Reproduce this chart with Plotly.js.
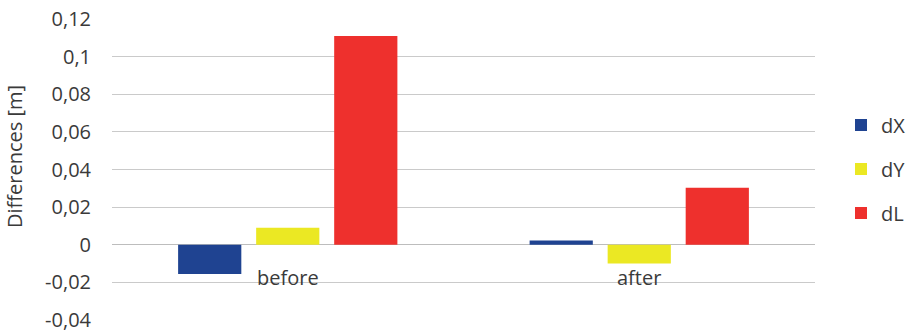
<!DOCTYPE html>
<html><head><meta charset="utf-8">
<script src="https://cdn.plot.ly/plotly-3.0.1.min.js"></script>
<style>html,body{margin:0;padding:0;background:#fff}</style>
</head><body>
<div id="chart" style="width:907px;height:333px"></div>
<script>
const categories = ["before", "after"];
const dX = [-0.0155, 0.0022];
const dY = [0.0090, -0.0100];
const dL = [0.1110, 0.0303];
const seriesNames = ["dX", "dY", "dL"];
const seriesColors = ["#1F4391", "#EBE823", "#EE302D"];
const tickVals = [-0.04, -0.02, 0, 0.02, 0.04, 0.06, 0.08, 0.1, 0.12];
const tickText = ["-0,04", "-0,02", "0", "0,02", "0,04", "0,06", "0,08", "0,1", "0,12"];
const yTitle = "Differences [m]";

const FONT = "Open Sans, Noto Sans, sans-serif";
const TXT = "#3A3A3A";
const FS = 20;
const W = 907, H = 333;
const M = {l: 112, r: 92, t: 19, b: 13, autoexpand: false};
const PW = W - M.l - M.r, PH = H - M.t - M.b;

const values = [dX, dY, dL];
const traces = values.map((v, i) => ({
  type: "bar", x: categories, y: v, name: seriesNames[i],
  marker: {color: seriesColors[i]}, legendgroup: "g" + i,
  hoverinfo: "skip"
}));

const annotations = categories.map(c => ({
  x: c, y: 0, xref: "x", yref: "y", text: c, showarrow: false,
  yanchor: "top", yshift: -17, font: {family: FONT, size: FS, color: TXT}
}));
annotations.push({
  xref: "paper", yref: "paper", x: (14 - M.l) / PW, y: (H - M.b - 157) / PH,
  xanchor: "center", yanchor: "middle", textangle: -90, showarrow: false,
  text: yTitle, font: {family: FONT, size: FS, color: TXT}
});

Plotly.newPlot("chart", traces, {
  width: W, height: H,
  margin: M,
  paper_bgcolor: "#fff", plot_bgcolor: "#fff",
  font: {family: FONT, size: FS, color: TXT},
  barmode: "group", bargap: 0.334, bargroupgap: 0.19,
  xaxis: {showticklabels: false, showgrid: false, zeroline: false, showline: false, fixedrange: true},
  yaxis: {
    range: [-0.04, 0.12], tickvals: tickVals, ticktext: tickText,
    showgrid: true, gridcolor: "#CACACA", gridwidth: 1,
    zeroline: true, zerolinecolor: "#BDBDBD", zerolinewidth: 1,
    ticks: "outside", ticklen: 16, tickcolor: "rgba(0,0,0,0)",
    tickfont: {family: FONT, size: FS, color: TXT},
    fixedrange: true
  },
  showlegend: true,
  legend: {x: (841 - M.l) / PW, y: (H - M.b - 169) / PH, xanchor: "left", yanchor: "middle",
    font: {family: FONT, size: FS, color: TXT}, tracegroupgap: 15, itemwidth: 30,
    bgcolor: "rgba(0,0,0,0)"},
  annotations: annotations
}, {displayModeBar: false, staticPlot: true});
</script>
</body></html>
